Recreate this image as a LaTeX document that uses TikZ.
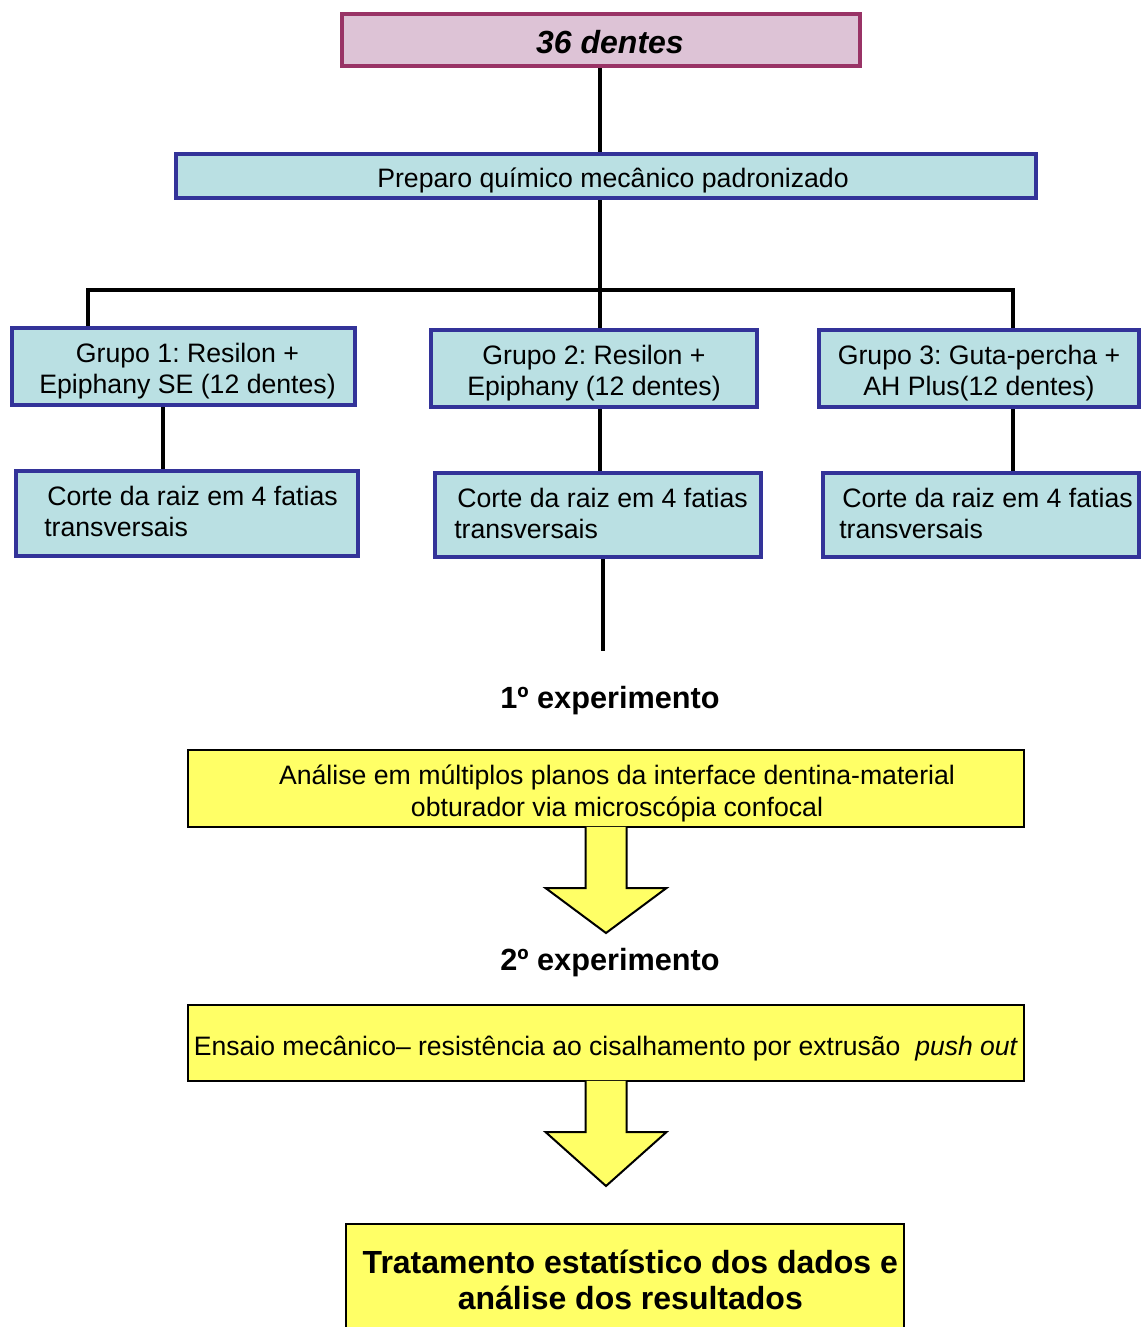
\documentclass[tikz,border=0pt]{standalone}
\usepackage{fontspec}
\setmainfont{Liberation Sans}
\usepackage{graphicx}
\usetikzlibrary{calc}
\frenchspacing
\definecolor{topborder}{HTML}{993366}
\definecolor{topfill}{HTML}{DDC3D6}
\definecolor{blueborder}{HTML}{333399}
\definecolor{bluefill}{HTML}{BAE0E3}
\definecolor{yel}{HTML}{FFFF66}
% lower text inside a node without changing its reported size
\newcommand\lowr[2]{\raisebox{-#1}[\height][\depth]{#2}}
\newcommand\ctab[1]{\begin{tabular}{@{}c@{}}#1\end{tabular}}
\newcommand\ltab[1]{\begin{tabular}{@{}l@{}}#1\end{tabular}}
\begin{document}
\begin{tikzpicture}[x=0.75pt,y=-0.75pt,
  topbox/.style={draw=topborder, line width=3.5pt, fill=topfill, inner sep=0pt,
    font=\fontsize{24}{28}\selectfont\bfseries\itshape},
  bluebox/.style={draw=blueborder, line width=3pt, fill=bluefill, inner sep=0pt,
    font=\fontsize{20}{23.25}\selectfont},
  yelbox/.style={draw=black, line width=1.5pt, fill=yel, inner sep=0pt,
    font=\fontsize{20}{24}\selectfont},
  conn/.style={line width=3pt, black},
  blockarrow/.style={draw=black, line width=1.5pt, fill=yel, line join=miter},
  explabel/.style={font=\fontsize{23}{27}\selectfont\bfseries, inner sep=0pt}]
\useasboundingbox (0,0) rectangle (1143,1327);

% boxes
\node[topbox, minimum width={518*0.75pt}, minimum height={52*0.75pt}] (top) at (601,40) {\lowr{1.5pt}{\hspace*{13.5pt}36 dentes}};
\node[bluebox, minimum width={860*0.75pt}, minimum height={44*0.75pt}] (prep) at (606,176) {\lowr{3pt}{\hspace*{10.5pt}Preparo químico mecânico padronizado}};

\node[bluebox, minimum width={343*0.75pt}, minimum height={77*0.75pt}] (g1) at (183.5,366.5) {\lowr{4.25pt}{\ctab{\hspace*{6pt}Grupo 1: Resilon +\\\hspace*{6pt}Epiphany SE (12 dentes)}}};
\node[bluebox, minimum width={326*0.75pt}, minimum height={77*0.75pt}] (g2) at (594,368.5) {\lowr{4.25pt}{\ctab{Grupo 2: Resilon +\\Epiphany (12 dentes)}}};
\node[bluebox, minimum width={320*0.75pt}, minimum height={77*0.75pt}] (g3) at (979,368.5) {\lowr{4.25pt}{\ctab{Grupo 3: Guta-percha +\\AH Plus(12 dentes)}}};

\node[bluebox, minimum width={342*0.75pt}, minimum height={85*0.75pt}] (c1) at (187,513.5) {\lowr{1.25pt}{\ltab{\hspace*{8.25pt}Corte da raiz em 4 fatias\\\hspace*{6pt}transversais}}};
\node[bluebox, minimum width={326*0.75pt}, minimum height={84*0.75pt}] (c2) at (598,515) {\lowr{1.25pt}{\ltab{\hspace*{6.75pt}Corte da raiz em 4 fatias\\\hspace*{4.5pt}transversais}}};
\node[bluebox, minimum width={316*0.75pt}, minimum height={84*0.75pt}] (c3) at (981,515) {\lowr{1.25pt}{\ltab{\hspace*{9.75pt}Corte da raiz em 4 fatias\\\hspace*{7.5pt}transversais}}};

% connectors
\coordinate (jL) at (88,290);
\coordinate (jM) at (600,290);
\coordinate (jR) at (1013,290);
\coordinate (cend) at (603,651);
\draw[conn] (top.south -| jM) -- (prep.north -| jM);
\draw[conn] (prep.south -| jM) -- (jM);
\draw[conn] (jL |- g1.north) -- (jL) -- (jR) -- (jR |- g3.north);
\draw[conn] (jM) -- (jM |- g2.north);
\draw[conn] ($(g1.south)+(-20.5,0)$) -- ($(g1.south |- c1.north)+(-20.5,0)$);
\draw[conn] (g2.south -| jM) -- (c2.north -| jM);
\draw[conn] (g3.south -| jR) -- (c3.north -| jR);
\draw[conn] (c2.south -| cend) -- (cend);

% experiment labels
\node[explabel] (e1) at (610,701) {1º experimento};
\node[explabel] (e2) at (610,963) {2º experimento};

% yellow boxes
\node[yelbox, minimum width={836*0.75pt}, minimum height={77*0.75pt}] (y1) at (606,788.5) {\lowr{4.25pt}{\ctab{\hspace*{16.5pt}Análise em múltiplos planos da interface dentina-material\\\hspace*{16.5pt}obturador via microscópia confocal}}};
\node[yelbox, minimum width={836*0.75pt}, minimum height={76*0.75pt}] (y2) at (606,1043) {\lowr{4.5pt}{\resizebox{618pt}{\height}{Ensaio mecânico– resistência ao cisalhamento por extrusão\ \ \textit{push out}}}};
\node[yelbox, minimum width={558*0.75pt}, minimum height={112*0.75pt}, font=\fontsize{24}{27}\selectfont\bfseries, align=center] (fin) at (625,1280) {\hspace*{8pt}Tratamento estatístico dos dados e\\\hspace*{8pt}análise dos resultados};

% block arrows
\draw[blockarrow] ($(y1.south)+(-20.5,-1.2)$) -- ++(0,61.2) -- ++(-40,0) -- ++(60.5,45) -- ++(60.5,-45) -- ++(-40,0) -- ++(0,-61.2);
\draw[blockarrow] ($(y2.south)+(-20.5,-1.2)$) -- ++(0,51.2) -- ++(-40,0) -- ++(60.5,54) -- ++(60.5,-54) -- ++(-40,0) -- ++(0,-51.2);
\end{tikzpicture}
\end{document}
